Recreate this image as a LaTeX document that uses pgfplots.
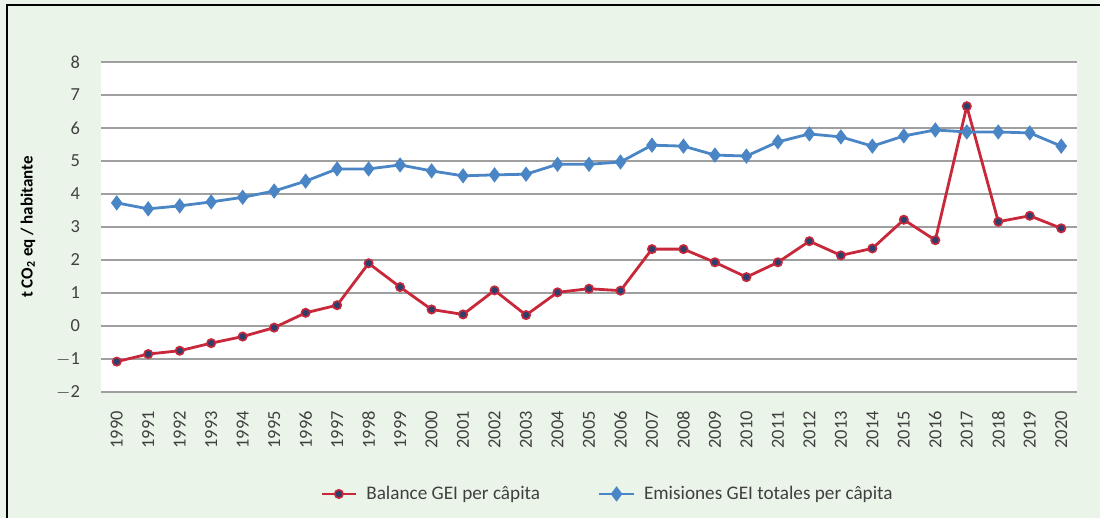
\documentclass[border=0pt]{standalone}
\usepackage{pgfplots}
\pgfplotsset{compat=1.18}
\usepackage{fontspec}
\setmainfont{Carlito}
\definecolor{bgc}{HTML}{EAF4E9}
\definecolor{redl}{HTML}{C8283A}
\definecolor{navy}{HTML}{2E3F6E}
\definecolor{bluel}{HTML}{4A86C5}
\definecolor{txt}{HTML}{404040}
\begin{document}
\begin{tikzpicture}[x=0.5pt,y=0.5pt]
\fill[bgc] (0,0) rectangle (1100,518);
\useasboundingbox (0,0) rectangle (1100,518);
\draw[black,line width=1.2pt] (7,0) -- (7,513) -- (1100,513);
\begin{axis}[
  at={(101pt*0.5,126pt*0.5)}, anchor=south west,
  scale only axis, width=488pt, height=165pt,
  xmin=-0.5, xmax=30.5, ymin=-2, ymax=8,
  axis line style={draw=none},
  axis background/.style={fill=white},
  xtick={0,...,30},
  xticklabels={1990,1991,1992,1993,1994,1995,1996,1997,1998,1999,2000,2001,2002,2003,2004,2005,2006,2007,2008,2009,2010,2011,2012,2013,2014,2015,2016,2017,2018,2019,2020},
  ytick={-2,-1,...,8},
  yticklabels={$-$2,$-$1,0,1,2,3,4,5,6,7,8},
  major tick length=0pt,
  ymajorgrids,
  major grid style={gray!75, line width=1.1pt},
  /pgf/number format/assume math mode=true,
  xticklabel style={rotate=90, anchor=east, font=\fontsize{9.2}{10}\selectfont, text=txt, xshift=-6pt},
  yticklabel style={font=\fontsize{9.2}{10}\selectfont, text=txt, xshift=-7pt},
  ylabel={\textbf{t CO\textsubscript{2} eq / habitante}},
  ylabel style={at={(axis description cs:-0.0748,0.5)}, anchor=center, rotate=0, font=\fontsize{8.5}{10}\selectfont},
  legend style={at={(axis description cs:0.52,-0.309)}, anchor=center, draw=none, fill=none, legend columns=2, font=\fontsize{9.6}{10}\selectfont, text=txt, /tikz/every even column/.append style={column sep=27pt}},
  clip=false,
]
\addplot[redl, line width=1.4pt, mark=*, mark size=2.1pt, mark options={fill=navy, draw=redl, line width=0.8pt}] coordinates {
(0,-1.08) (1,-0.85) (2,-0.75) (3,-0.52) (4,-0.32) (5,-0.05) (6,0.40) (7,0.63) (8,1.90) (9,1.18)
(10,0.50) (11,0.35) (12,1.08) (13,0.33) (14,1.02) (15,1.13) (16,1.07) (17,2.33) (18,2.33) (19,1.93)
(20,1.48) (21,1.93) (22,2.57) (23,2.14) (24,2.35) (25,3.22) (26,2.60) (27,6.66) (28,3.16) (29,3.34) (30,2.96)};
\addlegendentry{\hspace*{2.5pt}Balance GEI per câpita}
\addplot[bluel, line width=1.4pt, mark=diamond*, mark size=2.7pt, mark options={fill=bluel, draw=bluel}] coordinates {
(0,3.73) (1,3.55) (2,3.64) (3,3.76) (4,3.90) (5,4.09) (6,4.39) (7,4.76) (8,4.76) (9,4.88)
(10,4.70) (11,4.55) (12,4.58) (13,4.60) (14,4.90) (15,4.90) (16,4.97) (17,5.48) (18,5.45) (19,5.18)
(20,5.15) (21,5.58) (22,5.82) (23,5.73) (24,5.45) (25,5.76) (26,5.94) (27,5.88) (28,5.88) (29,5.85) (30,5.45)};
\addlegendentry{\hspace*{2.5pt}Emisiones GEI totales per câpita}
\end{axis}
\end{tikzpicture}
\end{document}
